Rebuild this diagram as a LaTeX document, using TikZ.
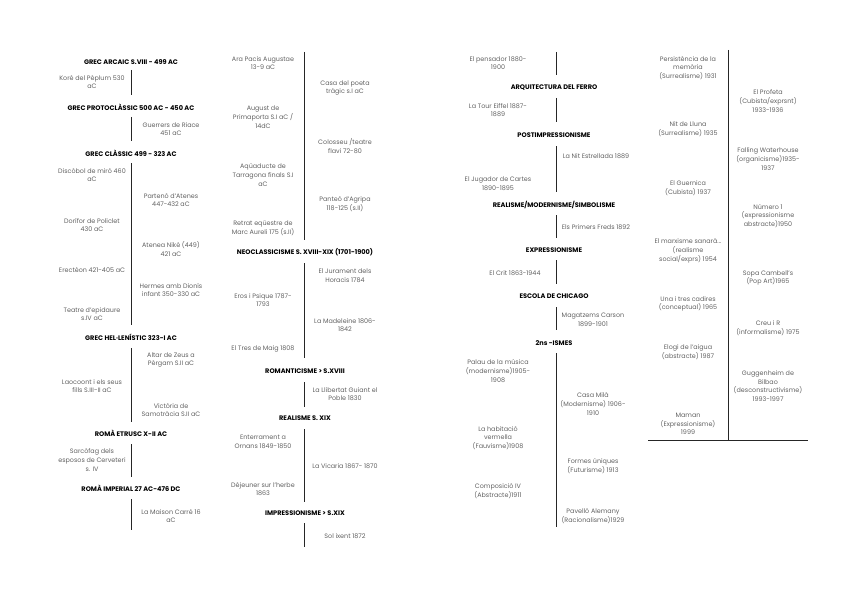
\documentclass[tikz,border=0pt]{standalone}
\usepackage{fontspec}
\setmainfont{Poppins}
\usetikzlibrary{positioning}

\begin{document}
\begin{tikzpicture}[
  x=1pt,y=-1pt,
  item/.style={align=center,inner sep=0pt,text=black!62,
               font=\fontsize{6.4}{8.7}\selectfont},
  head/.style={inner sep=0pt,font=\fontsize{6.6}{7}\selectfont\bfseries},
  seg/.style={line width=0.8pt,black!85}
]
\useasboundingbox (0,0) rectangle (848,599);

%% ---- time axis segments: name/x/top/bottom ------------------------------
\foreach \n/\x/\a/\b in {ca/131/70/95, cb/131/117/141, cc/131/163/325,
    cd/131/348/422, ce/131/444/477, cf/131/499/530,
    da/304/52/240, db/304/263/358, dc/304/382/407, dd/304/429/502,
    de/304/523/547,
    ea/556/52/75, eb/556/98/122, ec/556/146/192, ed/556/215/238,
    ee/556/260/284, ef/556/307/330, eg/556/353/527,
    fa/728/50/440}
{
  \coordinate (\n t) at (\x,\a);
  \coordinate (\n b) at (\x,\b);
  \draw[seg] (\n t) -- (\n b);
}
\coordinate (endl) at (648,440);
\coordinate (endr) at (808,440);
\draw[seg] (endl) -- (endr);

%% ---- column 1: greek and roman ------------------------------------------
\node[head] (arcaic) at (131,62)  {GREC ARCAIC S.VIII - 499 AC};
\node[item] (kore)   at (92,82)   {Koré del Pèplum 530\\aC};
\node[head] (proto)  at (131,107) {GREC PROTOCLÀSSIC 500 AC - 450 AC};
\node[item] (riace)  at (171,129) {Guerrers de Riace\\451 aC};
\node[head] (classic) at (131,153) {GREC CLÀSSIC 499 - 323 AC};
\node[item] (disco)  at (92,175)  {Discòbol de miró 460\\aC};
\node[item] (parten) at (171,200) {Partenó d'Atenes\\447-432 aC};
\node[item] (dorif)  at (92,225)  {Dorífor de Policlet\\430 aC};
\node[item] (niké)   at (171,249) {Atenea Niké (449)\\421 aC};
\node[item] (erect)  at (92,270)  {Erectèon 421-405 aC};
\node[item] (hermes) at (171,290) {Hermes amb Dionís\\infant 350-330 aC};
\node[item] (teatre) at (92,314)  {Teatre d'epidaure\\s.IV aC};
\node[head] (hellen) at (131,337) {GREC HEL·LENÍSTIC 323-I AC};
\node[item] (altar)  at (171,360) {Altar de Zeus a\\Pèrgam S.II aC};
\node[item] (laoc)   at (92,386)  {Laocoont i els seus\\fills S.III-II aC};
\node[item] (vict)   at (171,410) {Victòria de\\Samotràcia S.II aC};
\node[head] (etrusc) at (131,433) {ROMÀ ETRUSC X-II AC};
\node[item] (sarc)   at (92,460)  {Sarcòfag dels\\esposos de Cerveteri\\s. IV};
\node[head] (imper)  at (131,488) {ROMÀ IMPERIAL 27 AC-476 DC};
\node[item] (maison) at (171,516) {La Maison Carré 16\\aC};

%% ---- column 2: rome to impressionism ------------------------------------
\node[item] (arapac) at (263,63)  {Ara Pacis Augustae\\13-9 aC};
\node[item] (poeta)  at (345,88)  {Casa del poeta\\tràgic s.I aC};
\node[item] (august) at (263,117) {August de\\Primaporta S.I aC /\\14dC};
\node[item] (coloss) at (345,146) {Colosseu /teatre\\flavi 72-80};
\node[item] (aqued)  at (263,175) {Aqüaducte de\\Tarragona finals S.I\\aC};
\node[item] (pante)  at (345,204) {Panteó d'Agripa\\118-125 (s.II)};
\node[item] (aureli) at (263,228) {Retrat eqüestre de\\Marc Aureli 175 (s.II)};
\node[head] (neocl)  at (305,252) {NEOCLASSICISME S. XVIII-XIX (1701-1900)};
\node[item] (horac)  at (345,276) {El Jurament dels\\Horacis 1784};
\node[item] (eros)   at (263,300) {Eros i Psique 1787-\\1793};
\node[item] (madel)  at (345,325) {La Madeleine 1806-\\1842};
\node[item] (tres)   at (263,349) {El Tres de Maig 1808};
\node[head] (roman)  at (305,371) {ROMANTICISME > S.XVIII};
\node[item] (llib)   at (345,394) {La Llibertat Guiant el\\Poble 1830};
\node[head] (real)   at (305,418) {REALISME S. XIX};
\node[item] (ornans) at (263,442) {Enterrament a\\Ornans 1849-1850};
\node[item] (vicar)  at (345,466) {La Vicaria 1867- 1870};
\node[item] (dejeun) at (263,489) {Déjeuner sur l'herbe\\1863};
\node[head] (impres) at (305,513) {IMPRESSIONISME > S.XIX};
\node[item] (solix)  at (345,536) {Sol ixent 1872};

%% ---- column 3: iron to the isms -----------------------------------------
\node[item] (pensad) at (498,63)  {El pensador 1880-\\1900};
\node[head] (ferro)  at (554,88)  {ARQUITECTURA DEL FERRO};
\node[item] (eiffel) at (498,110) {La Tour Eiffel 1887-\\1889};
\node[head] (postim) at (554,135) {POSTIMPRESSIONISME};
\node[item] (nitest) at (596,156) {La Nit Estrellada 1889};
\node[item] (jugad)  at (498,184) {El Jugador de Cartes\\1890-1895};
\node[head] (simbol) at (554,205) {REALISME/MODERNISME/SIMBOLISME};
\node[item] (freds)  at (596,227) {Els Primers Freds 1892};
\node[head] (expres) at (554,250) {EXPRESSIONISME};
\node[item] (crit)   at (515,273) {El Crit 1863-1944};
\node[head] (chicag) at (554,296) {ESCOLA DE CHICAGO};
\node[item] (carson) at (593,320) {Magatzems Carson\\1899-1901};
\node[head] (ismes)  at (554,343) {2ns -ISMES};
\node[item] (palau)  at (498,371) {Palau de la música\\(modernisme)1905-\\1908};
\node[item] (mila)   at (593,404) {Casa Milà\\(Modernisme) 1906-\\1910};
\node[item] (habit)  at (498,438) {La habitació\\vermella\\(Fauvisme)1908};
\node[item] (formes) at (593,466) {Formes úniques\\(Futurisme) 1913};
\node[item] (compos) at (498,491) {Composició IV\\(Abstracte)1911};
\node[item] (pavel)  at (593,516) {Pavelló Alemany\\(Racionalisme)1929};

%% ---- column 4: twentieth century ----------------------------------------
\node[item] (persist) at (688,68)  {Persistència de la\\memòria\\(Surrealisme) 1931};
\node[item] (profeta) at (768,101) {El Profeta\\(Cubista/exprsnt)\\1933-1936};
\node[item] (lluna)   at (688,129) {Nit de Lluna\\(Surrealisme) 1935};
\node[item] (falling) at (768,159) {Falling Waterhouse\\(organicisme)1935-\\1937};
\node[item] (guern)   at (688,188) {El Guernica\\(Cubista) 1937};
\node[item] (numero)  at (768,216) {Número 1\\(expressionisme\\abstracte)1950};
\node[item] (marx)    at (688,251) {El marxisme sanarà...\\(realisme\\social/exprs) 1954};
\node[item] (sopa)    at (768,278) {Sopa Cambell's\\(Pop Art)1965};
\node[item] (cadir)   at (688,304) {Una i tres cadires\\(conceptual) 1965};
\node[item] (creu)    at (768,328) {Creu i R\\(informalisme) 1975};
\node[item] (aigua)   at (688,352) {Elogi de l'aigua\\(abstracte) 1987};
\node[item] (guggen)  at (768,386) {Guggenheim de\\Bilbao\\(desconstructivisme)\\1993-1997};
\node[item] (maman)   at (688,424) {Maman\\(Expressionisme)\\1999};
\end{tikzpicture}
\end{document}
